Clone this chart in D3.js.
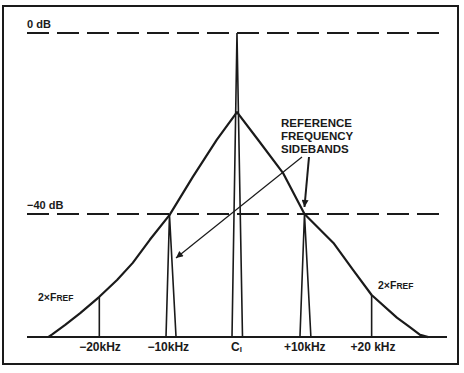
<!DOCTYPE html>
<html><head><meta charset="utf-8">
<script src="https://cdn.jsdelivr.net/npm/d3@7"></script>
<style>body{margin:0;background:#fff}svg{display:block}</style>
</head><body>
<script>
// ---- data (kHz offset from carrier, level in dB) ----
const skirtKHz = [-27.6,-27.0,-25.1,-22.9,-20.1,-17.5,-15.2,-12.7,-9.8,-6.4,-2.9,0.07,3.15,6.8,9.96,14.2,17.1,19.8,23.5,25.4,26.9,28.1];
const skirtDB  = [-67.2,-66.6,-64.5,-61.9,-58.3,-54.6,-50.8,-45.7,-40.2,-31.8,-23.6,-17.5,-23.6,-30.9,-40.0,-46.4,-52.4,-57.9,-62.9,-65.0,-66.7,-67.2];
// carrier and reference sidebands: apex position/level, base edges
const spikeKHz   = [0.07, -9.82, 9.96];
const spikeDB    = [0, -40.2, -40.0];
const spikeLeft  = [-0.66, -10.33, 9.3];
const spikeRight = [0.88, -8.86, 10.9];
// 2 x FREF markers
const frefKHz = [-20.1, 19.8];
const frefDB  = [-58.3, -57.9];
// axis
const tickKHz = [-20, -10, 0, 10, 20];
const tickLabels = ["\u221220kHz", "\u221210kHz", "C", "+10kHz", "+20 kHz"];
const refLevels = [0, -40];
const refLabels = ["0 dB", "\u221240 dB"];
const floorDB = -67.2;
const noteLines = ["REFERENCE", "FREQUENCY", "SIDEBANDS"];

const W = 464, H = 373;
const svg = d3.select("body").append("svg").attr("width", W).attr("height", H)
  .style("font-family", "'Liberation Sans', Arial, sans-serif").style("font-weight", "bold");

const x = d3.scaleLinear().domain([-20, 20]).range([100, 373]);
const y = d3.scaleLinear().domain([-40, 0]).range([214, 33]);
const ink = "#1a1a1a";

const defs = svg.append("defs");
defs.append("marker").attr("id", "ah")
  .attr("viewBox", "0 0 10 10").attr("refX", 10).attr("refY", 5)
  .attr("markerUnits", "userSpaceOnUse").attr("markerWidth", 14).attr("markerHeight", 7)
  .attr("orient", "auto")
  .append("path").attr("d", "M0,0 L10,5 L0,10 Z").attr("fill", ink);
defs.append("marker").attr("id", "ah2")
  .attr("viewBox", "0 0 10 10").attr("refX", 10).attr("refY", 5)
  .attr("markerUnits", "userSpaceOnUse").attr("markerWidth", 16).attr("markerHeight", 7)
  .attr("orient", "auto")
  .append("path").attr("d", "M0,0 L10,5 L0,10 Z").attr("fill", ink);

// frame
svg.append("rect").attr("x", 3).attr("y", 6).attr("width", 455).attr("height", 358)
  .attr("fill", "none").attr("stroke", ink).attr("stroke-width", 2);

// reference dashed lines
svg.selectAll(".ref").data(refLevels).enter().append("line")
  .attr("x1", 27).attr("x2", 445)
  .attr("y1", d => y(d)).attr("y2", d => y(d))
  .attr("stroke", ink).attr("stroke-width", 2).attr("stroke-dasharray", "22,8");
svg.selectAll(".reft").data(refLevels).enter().append("text")
  .attr("x", 27).attr("y", d => y(d) - 5)
  .attr("font-size", 11).attr("fill", ink)
  .text((d, i) => refLabels[i]);

// baseline
svg.append("line").attr("x1", 27).attr("x2", 447)
  .attr("y1", y(floorDB)).attr("y2", y(floorDB))
  .attr("stroke", ink).attr("stroke-width", 2);

// noise skirt
const pts = skirtKHz.map((k, i) => [x(k), y(skirtDB[i])]);
svg.append("path").attr("d", d3.line()(pts))
  .attr("fill", "none").attr("stroke", ink).attr("stroke-width", 2.2)
  .attr("stroke-linejoin", "round");

// carrier & sidebands (narrow spikes)
spikeKHz.forEach((k, i) => {
  const p = [[x(spikeLeft[i]), y(floorDB)], [x(k), y(spikeDB[i])], [x(spikeRight[i]), y(floorDB)]];
  svg.append("path").attr("d", d3.line()(p))
    .attr("fill", "none").attr("stroke", ink).attr("stroke-width", 1.6)
    .attr("stroke-linejoin", "miter");
});

// 2 x FREF markers
svg.selectAll(".fref").data(frefKHz).enter().append("line")
  .attr("x1", d => x(d)).attr("x2", d => x(d))
  .attr("y1", (d, i) => y(frefDB[i])).attr("y2", y(floorDB))
  .attr("stroke", ink).attr("stroke-width", 1.6);
const frefPos = [[38, 301], [378, 289]];
frefPos.forEach(p => {
  const t = svg.append("text").attr("x", p[0]).attr("y", p[1]).attr("fill", ink).attr("font-size", 10.5);
  t.append("tspan").text("2\u00d7F");
  t.append("tspan").attr("font-size", 8.5).text("REF");
});

// tick labels
svg.selectAll(".tl").data(tickKHz).enter().append("text")
  .attr("x", d => x(d)).attr("y", 351)
  .attr("text-anchor", "middle").attr("font-size", 12).attr("fill", ink)
  .each(function(d, i) {
    const t = d3.select(this);
    t.append("tspan").text(tickLabels[i]);
    if (d === 0) t.append("tspan").attr("font-size", 8).attr("dy", 1).text("I");
  });

// annotation
svg.selectAll(".note").data(noteLines).enter().append("text")
  .attr("x", 281).attr("y", (d, i) => 127 + i * 13)
  .attr("font-size", 11.5).attr("fill", ink).text(d => d);

// arrows to the reference sidebands
svg.append("line").attr("x1", 309).attr("y1", 157).attr("x2", x(spikeKHz[2])).attr("y2", y(spikeDB[2]) - 7)
  .attr("stroke", ink).attr("stroke-width", 2).attr("marker-end", "url(#ah2)");
svg.append("line").attr("x1", 302).attr("y1", 157).attr("x2", 176).attr("y2", 258)
  .attr("stroke", ink).attr("stroke-width", 1.2).attr("marker-end", "url(#ah)");
</script>
</body></html>
